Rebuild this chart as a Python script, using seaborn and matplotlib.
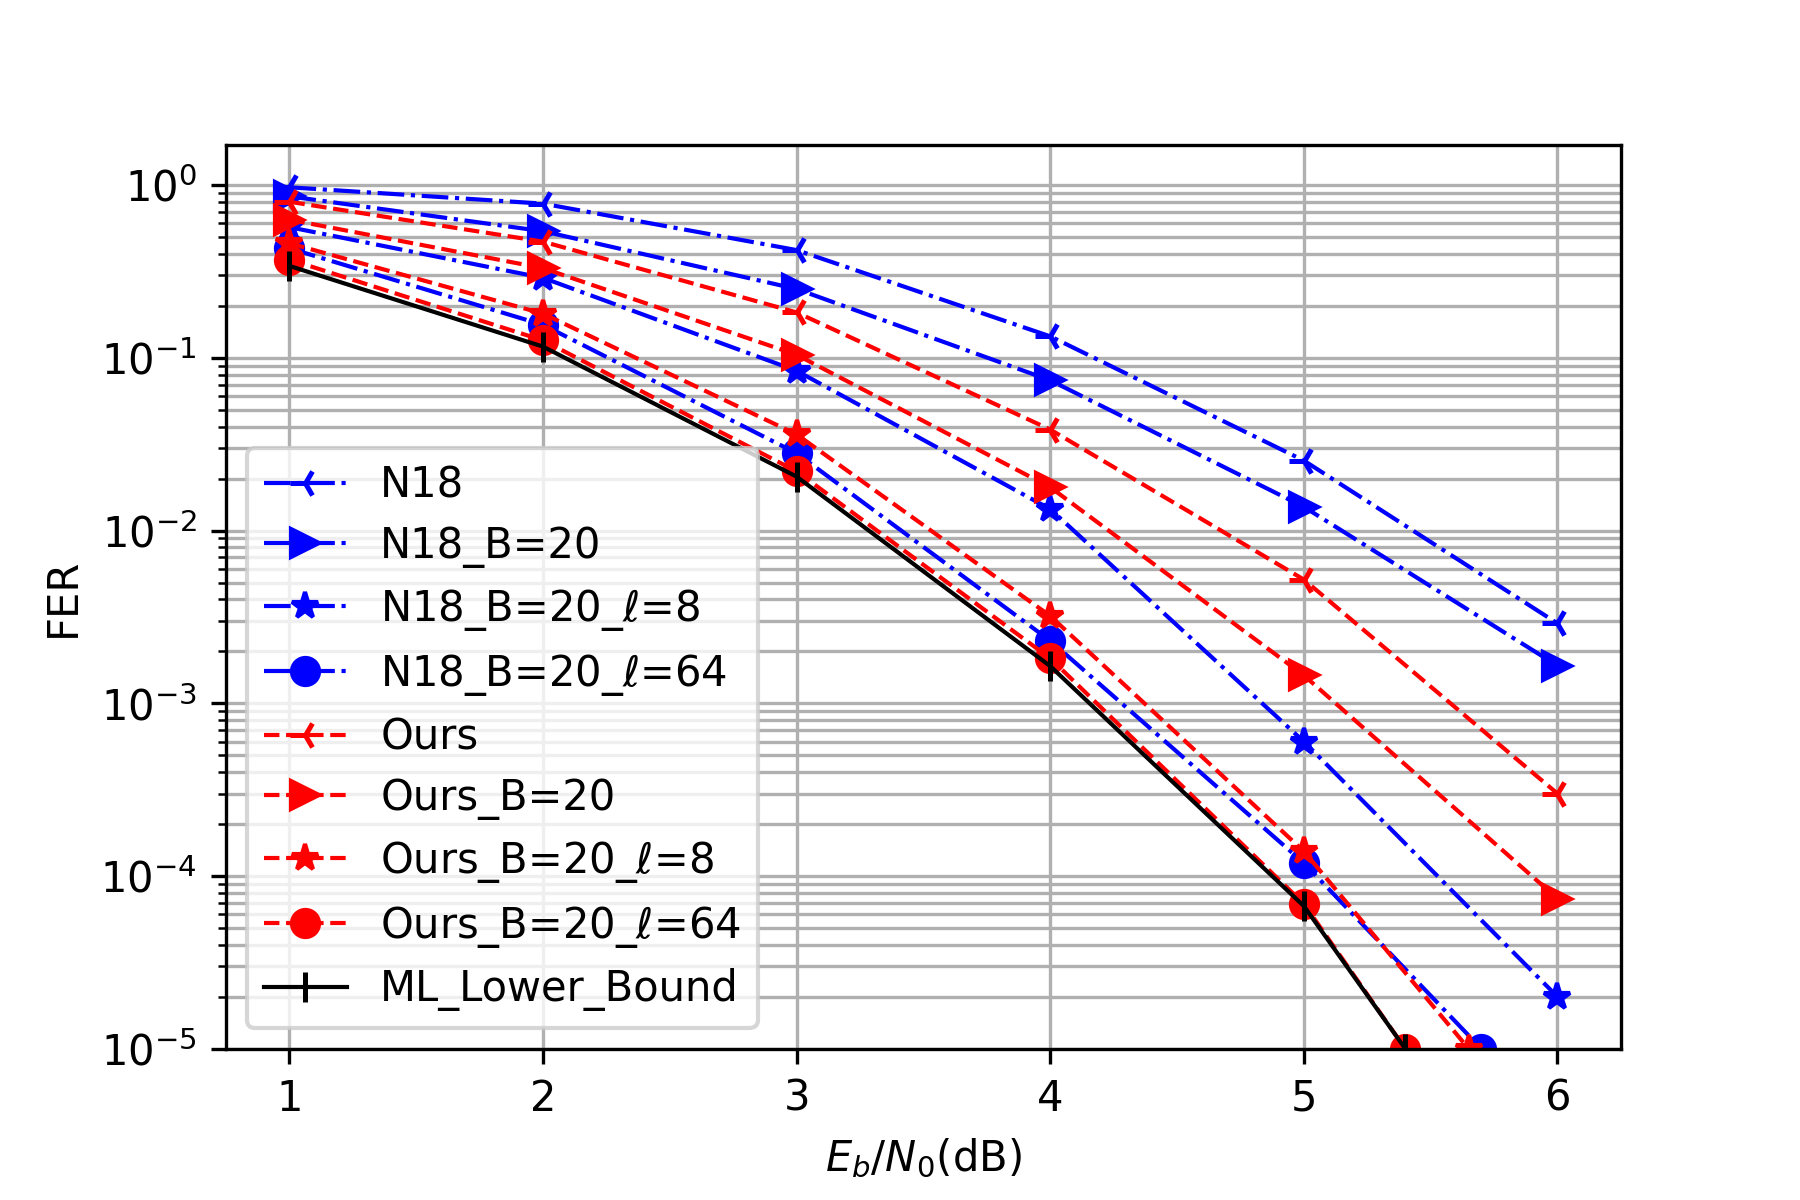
import numpy as np
import matplotlib
matplotlib.use("Agg")
import matplotlib.pyplot as plt
import seaborn as sns

# Eb/N0 noktalari
snr = [1, 2, 3, 4, 5, 6]
snr_n18_l64 = [1, 2, 3, 4, 5, 5.7]
snr_ours_l8 = [1, 2, 3, 4, 5, 5.65]
snr_ours_l64 = [1, 2, 3, 4, 5, 5.4]
snr_ml = [1, 2, 3, 4, 5, 5.4]

# FER degerleri
fer_n18 = [0.97, 0.78, 0.42, 0.133, 0.0254, 0.0029]
fer_n18_b20 = [0.86, 0.54, 0.25, 0.074, 0.0137, 0.00165]
fer_n18_b20_l8 = [0.57, 0.29, 0.084, 0.0133, 6.0e-4, 2.0e-5]
fer_n18_b20_l64 = [0.43, 0.155, 0.028, 0.0023, 1.19e-4, 1e-5]
fer_ours = [0.80, 0.47, 0.183, 0.0384, 0.0052, 3.0e-4]
fer_ours_b20 = [0.63, 0.33, 0.104, 0.0178, 0.00145, 7.4e-5]
fer_ours_b20_l8 = [0.46, 0.18, 0.036, 0.0032, 1.39e-4, 1e-5]
fer_ours_b20_l64 = [0.37, 0.126, 0.022, 0.00182, 6.9e-5, 1e-5]
fer_ml = [0.34, 0.116, 0.0205, 0.00164, 6.7e-5, 1e-5]

seriler = [
    (snr, fer_n18, "N18", "b", "-.", "3"),
    (snr, fer_n18_b20, "N18_B=20", "b", "-.", ">"),
    (snr, fer_n18_b20_l8, r"N18_B=20_$\ell$=8", "b", "-.", "*"),
    (snr_n18_l64, fer_n18_b20_l64, r"N18_B=20_$\ell$=64", "b", "-.", "o"),
    (snr, fer_ours, "Ours", "r", "--", "3"),
    (snr, fer_ours_b20, "Ours_B=20", "r", "--", ">"),
    (snr_ours_l8, fer_ours_b20_l8, r"Ours_B=20_$\ell$=8", "r", "--", "*"),
    (snr_ours_l64, fer_ours_b20_l64, r"Ours_B=20_$\ell$=64", "r", "--", "o"),
    (snr_ml, fer_ml, "ML_Lower_Bound", "k", "-", "|"),
]

fig, ax = plt.subplots(figsize=(6, 4), dpi=300)
fig.subplots_adjust(left=0.1256, right=0.9005, top=0.879, bottom=0.126)

for x, y, etiket, renk, cizgi, isaret in seriler:
    sns.lineplot(x=x, y=y, ax=ax, color=renk, linestyle=cizgi, marker=isaret,
                 markersize=7 if isaret in ("3", "|") else 6.5,
                 markeredgecolor=renk, markeredgewidth=1.2 if isaret in ("3", "|") else 1.0,
                 linewidth=1.0, label=etiket, errorbar=None, sort=False)

ax.set_yscale("log")
ax.set_ylim(1e-5, 1.7)
ax.set_xlim(0.75, 6.25)
ax.set_xticks(snr)
ax.grid(True, which="both", color="#b0b0b0", linewidth=0.8)
ax.set_axisbelow(True)
ax.set_xlabel(r"$E_b/N_0$(dB)", fontsize=10)
ax.set_ylabel("FER", fontsize=10)
ax.tick_params(labelsize=10)
ax.legend(loc="lower left", fontsize=10, labelspacing=0.45)

plt.savefig("out.png", dpi=300)
